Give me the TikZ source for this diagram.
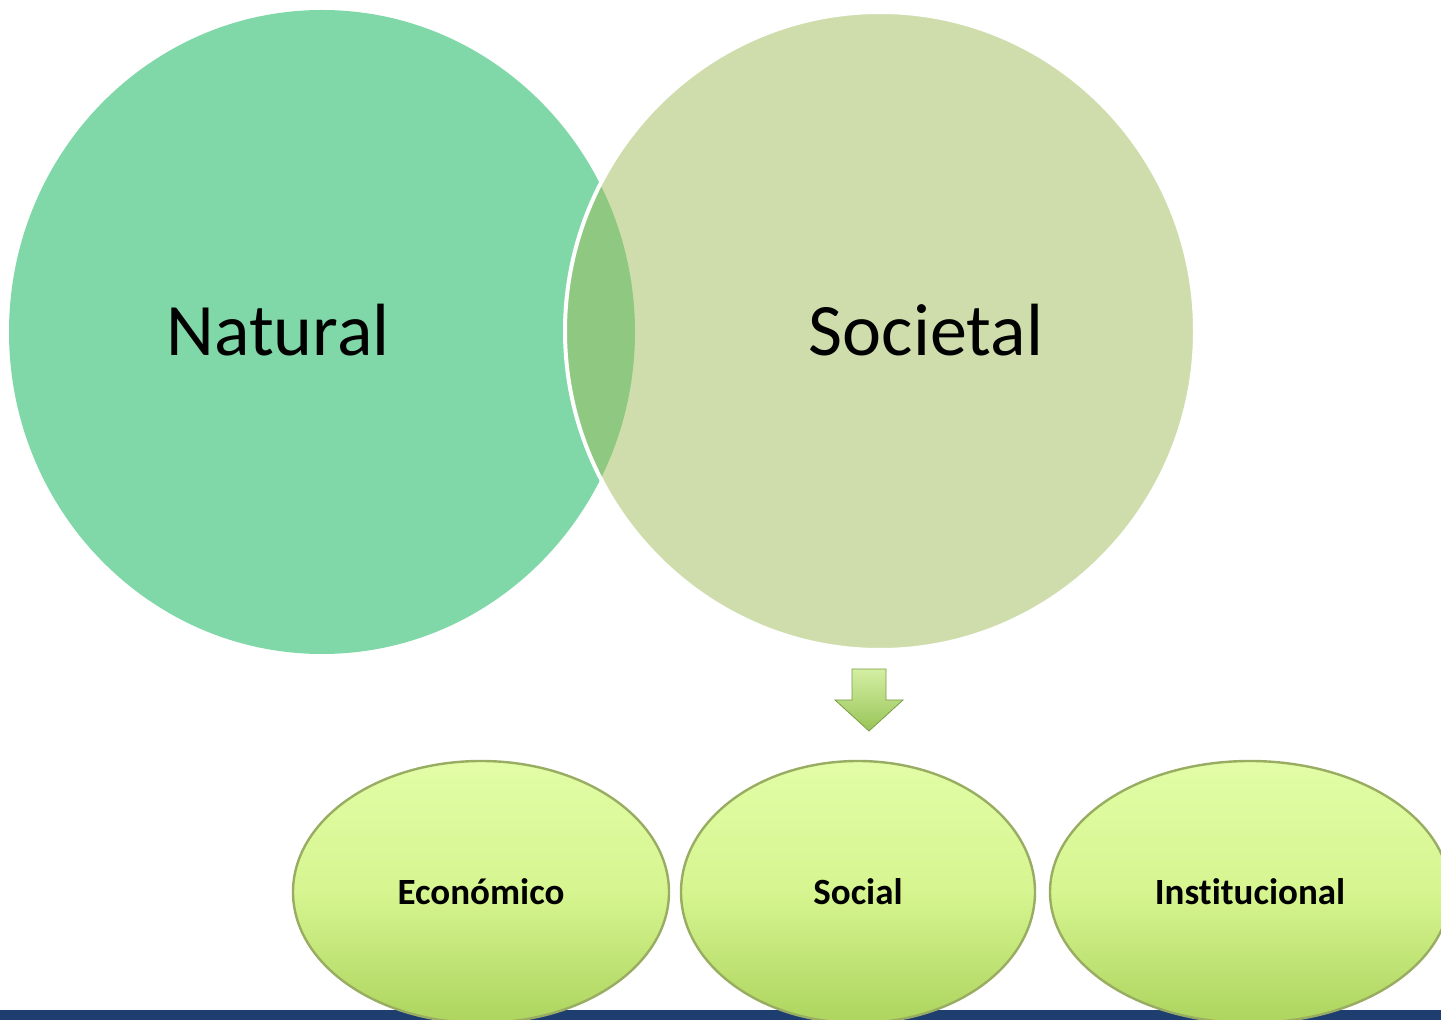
\documentclass[tikz,border=0pt]{standalone}
\usepackage{fontspec}
\setmainfont{Carlito}[Ligatures={NoCommon}]
\usetikzlibrary{shapes.geometric,calc}
\definecolor{natfill}{HTML}{80D8A8}
\definecolor{socfill}{HTML}{9FBB5B}
\definecolor{ovtop}{HTML}{E2FDA6}
\definecolor{ovmid}{HTML}{D6F590}
\definecolor{ovbot}{HTML}{ADD45E}
\definecolor{ovedge}{HTML}{98AC62}
\definecolor{barblue}{HTML}{1F3E70}
\definecolor{arrtop}{HTML}{D4EFA4}
\definecolor{arrbot}{HTML}{98C458}
\begin{document}
\begin{tikzpicture}[x=0.5pt,y=-0.5pt,
  bigtext/.style={font=\fontsize{37}{44}\selectfont, text=black, inner sep=0},
  ovalbox/.style={ellipse, inner sep=0, draw=ovedge, line width=1.2pt,
    top color=ovtop, bottom color=ovbot, middle color=ovmid,
    font=\bfseries\fontsize{18.5}{22}\selectfont, text=black}]
\useasboundingbox (0,0) rectangle (1441,1020);
\clip (0,0) rectangle (1441,1020);
% bottom bar
\fill[barblue] (0,1010) rectangle (1441,1020);
% circles
\node[ellipse, inner sep=0, minimum width=313pt, minimum height=322pt, fill=natfill] (nat) at (322,332) {};
\node[ellipse, inner sep=0, minimum width=315pt, minimum height=319pt, fill=socfill, fill opacity=0.5, draw=white, line width=2pt] (soc) at (880,331) {};
\node[bigtext] (natlabel) at (278,330) {Natural};
\node[bigtext] (soclabel) at (926,330) {Societal};
% arrow
\coordinate (atop) at (869,669);
\coordinate (atip) at (869,731);
\shade[top color=arrtop, bottom color=arrbot, draw=arrbot!80!black, line width=0.4pt]
  ($(atop)+(-17,0)$) -- ($(atop)+(17,0)$) -- ($(atop)+(17,31)$) -- ($(atop)+(34,31)$)
  -- (atip) -- ($(atop)+(-34,31)$) -- ($(atop)+(-17,31)$) -- cycle;
% ovals
\node[ovalbox, minimum width=188pt, minimum height=131pt] (eco) at (481,892) {Económico};
\node[ovalbox, minimum width=177pt, minimum height=131pt] (social) at (858,892) {Social};
\node[ovalbox, minimum width=200pt, minimum height=131pt] (inst) at (1250,892) {Institucional};
\end{tikzpicture}
\end{document}
